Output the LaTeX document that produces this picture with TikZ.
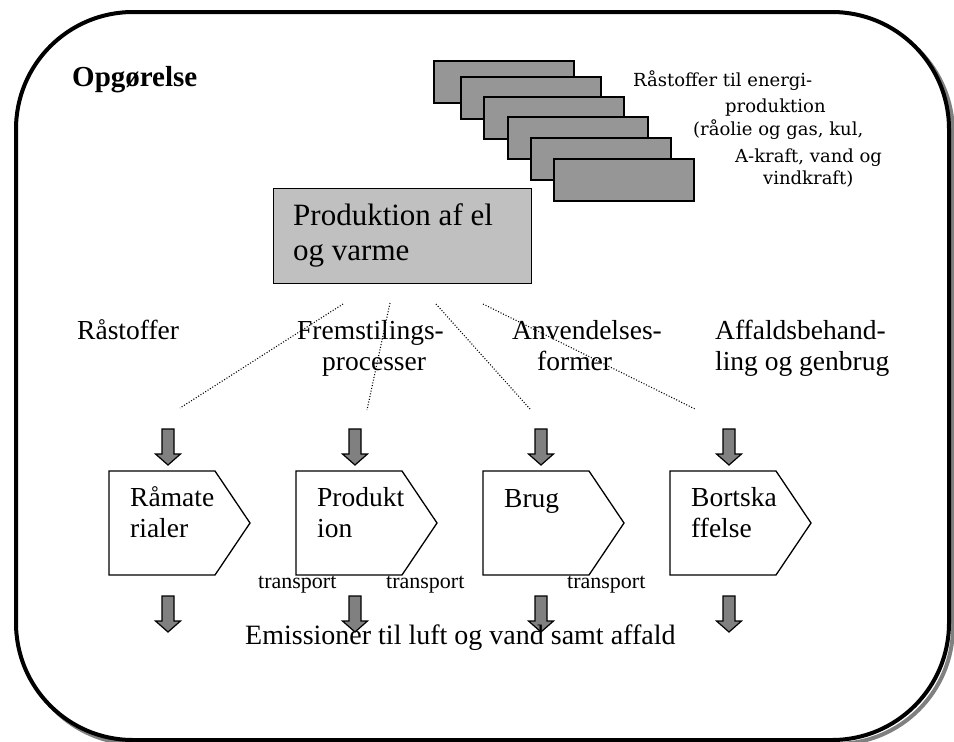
\documentclass[tikz,border=0pt]{standalone}
\usepackage{fontspec}
\setmainfont{Liberation Serif}
\newfontfamily\topfont{DejaVu Serif}
\definecolor{stackgray}{RGB}{150,150,150}
\definecolor{boxgray}{RGB}{192,192,192}
\definecolor{arrowgray}{RGB}{128,128,128}
\definecolor{shadowgray}{RGB}{128,128,128}
\tikzset{
  frameshadow/.style={draw=shadowgray, line width=4pt, rounded corners=117pt},
  framebox/.style={draw=black, fill=white, line width=4pt, rounded corners=117pt},
  stackbox/.style={draw=black, line width=1.5pt, fill=stackgray, minimum width=140pt, minimum height=42pt, anchor=north west, inner sep=0pt},
  mainbox/.style={draw=black, line width=1.2pt, fill=boxgray, minimum width=258pt, minimum height=95pt, anchor=north west, inner sep=0pt},
  txt/.style={inner sep=0pt, anchor=base west, align=left},
  toptxt/.style={txt, font=\topfont\fontsize{18}{21}\selectfont},
  bigtxt/.style={txt, font=\fontsize{31}{35}\selectfont},
  lbl/.style={txt, font=\fontsize{27.5}{31}\selectfont},
  smalltxt/.style={txt, font=\fontsize{22}{25}\selectfont},
  dots/.style={line width=1.1pt, dash pattern=on 1pt off 1.8pt},
  arrowshape/.style={draw=black, line width=1.2pt, fill=arrowgray, line join=miter},
  pentshape/.style={draw=black, line width=1.3pt, fill=white},
  downarr/.pic={\draw[arrowshape] (-6,0) -- (6,0) -- (6,25) -- (12.5,25) -- (0,36) -- (-12.5,25) -- (-6,25) -- cycle;},
  pentagon/.pic={\draw[pentshape] (0,0) -- (106,0) -- (141,52) -- (106,104) -- (0,104) -- cycle;}
}
\begin{document}
\begin{tikzpicture}[x=1pt,y=-1pt]
\useasboundingbox (0,0) rectangle (954,742);
% frame with shadow
\draw[frameshadow] (20,16) rectangle (953,744);
\draw[framebox] (16,12) rectangle (949,740);

\node[txt, font=\bfseries\fontsize{29}{33}\selectfont] (opg) at (72,86) {Opgørelse};

% stacked raw material boxes
\node[stackbox] (s1) at (433,60) {};
\node[stackbox] (s2) at (460,76) {};
\node[stackbox] (s3) at (483,96) {};
\node[stackbox] (s4) at (507,116) {};
\node[stackbox] (s5) at (530,137) {};
\node[stackbox] (s6) at (553,158) {};

\node[toptxt] (r1) at (633,86) {Råstoffer til energi-};
\node[toptxt] (r2) at (725,112) {produktion};
\node[toptxt] (r3) at (693,135) {(råolie og gas, kul,};
\node[toptxt] (r4) at (735,162) {A-kraft, vand og};
\node[toptxt] (r5) at (763,184) {vindkraft)};

% main box
\node[mainbox] (prod) at (273,188) {};
\node[bigtxt] (prodtxt) at (293,260) {Produktion af el\\og varme};

% dotted connectors
\coordinate (d1a) at (343,304); \coordinate (d1b) at (180,408);
\coordinate (d2a) at (390,303); \coordinate (d2b) at (367,410);
\coordinate (d3a) at (436,304); \coordinate (d3b) at (530,409);
\coordinate (d4a) at (483,304); \coordinate (d4b) at (695,409);
\draw[dots] (d1a) -- (d1b);
\draw[dots] (d2a) -- (d2b);
\draw[dots] (d3a) -- (d3b);
\draw[dots] (d4a) -- (d4b);

% phase labels
\node[lbl] (l1) at (77,339) {Råstoffer};
\node[lbl] (l2) at (297,370) {Fremstilings-\\\hspace*{25pt}processer};
\node[lbl] (l3) at (512,370) {Anvendelses-\\\hspace*{25pt}former};
\node[lbl] (l4) at (715,370) {Affaldsbehand-\\ling og genbrug};

% arrows in
\pic at (168,429) {downarr};
\pic at (355,429) {downarr};
\pic at (541,429) {downarr};
\pic at (729,429) {downarr};

% pentagons
\pic at (109,471) {pentagon};
\pic at (296,471) {pentagon};
\pic at (483,471) {pentagon};
\pic at (670,471) {pentagon};
\node[lbl] (p1) at (130,537) {Råmate\\rialer};
\node[lbl] (p2) at (317,537) {Produkt\\ion};
\node[lbl] (p3) at (504,507) {Brug};
\node[lbl] (p4) at (691,537) {Bortska\\ffelse};

% transport labels
\node[smalltxt] (t1) at (258,588) {transport};
\node[smalltxt] (t2) at (386,588) {transport};
\node[smalltxt] (t3) at (567,588) {transport};

% arrows out
\pic at (168,596) {downarr};
\pic at (355,596) {downarr};
\pic at (541,596) {downarr};
\pic at (729,596) {downarr};

\node[txt, font=\fontsize{28}{32}\selectfont] (emis) at (245,644) {Emissioner til luft og vand samt affald};
\end{tikzpicture}
\end{document}
